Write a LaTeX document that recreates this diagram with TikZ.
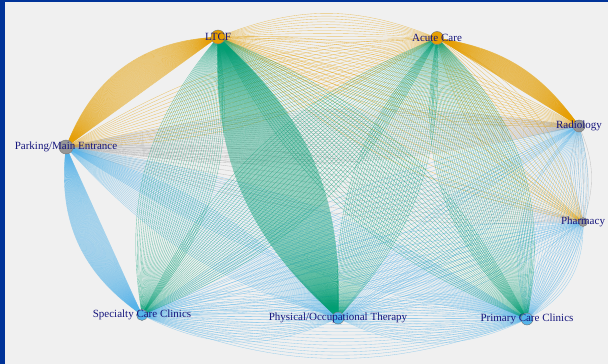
\documentclass[tikz,border=0pt]{standalone}
\usepackage{fontspec}
\setmainfont{Liberation Serif}
\definecolor{frameblue}{RGB}{0,51,153}
\definecolor{paper}{RGB}{240,240,240}
\definecolor{hubor}{HTML}{E69F00}
\definecolor{hubgray}{HTML}{969696}
\definecolor{hubblue}{HTML}{56B4E9}
\definecolor{flowor}{HTML}{E69F00}
\definecolor{flowgreen}{HTML}{009E73}
\definecolor{flowblue}{HTML}{56B4E9}
\definecolor{flowgray}{HTML}{A0A0A0}
\definecolor{namecol}{RGB}{22,22,125}
\pgfdeclarelayer{back}
\pgfdeclarelayer{edges}
\pgfsetlayers{back,edges,main}
\begin{document}
\begin{tikzpicture}[x=1pt,y=-1pt]
	\tikzstyle{hub}=[circle,draw=black!55,line width=0.4pt,inner sep=0pt]
	\tikzset{
		orange hub/.style={hub,fill=hubor},
		gray hub/.style={hub,fill=hubgray},
		blue hub/.style={hub,fill=hubblue},
		every label/.style={text=namecol,font=\fontsize{11}{13}\selectfont,inner sep=0pt},
		flow/.style={line width=0.35pt,opacity=0.55}
	}
	\begin{pgfonlayer}{back}
		\fill[paper] (0,0) rectangle (608,364);
		\fill[frameblue] (0,0) rectangle (608,2);
		\fill[frameblue] (0,0) rectangle (5,364);
	\end{pgfonlayer}
	\useasboundingbox (0,0) rectangle (608,364);
	% places
	\node(ltcf)[orange hub,minimum size=14pt,label=center:LTCF] at (218,37){};
	\node(acute)[orange hub,minimum size=13pt,label=center:Acute Care] at (437,38){};
	\node(parking)[gray hub,minimum size=14pt,label=center:Parking/Main Entrance] at (66,147){};
	\node(radio)[gray hub,minimum size=12pt,label=center:Radiology] at (579,126){};
	\node(pharma)[gray hub,minimum size=9pt,label=center:Pharmacy] at (583,222){};
	\node(special)[blue hub,minimum size=11pt,label=center:Specialty Care Clinics] at (142,315){};
	\node(therapy)[blue hub,minimum size=12pt,label=center:Physical/Occupational Therapy] at (338,318){};
	\node(primary)[blue hub,minimum size=12pt,label=center:Primary Care Clinics] at (527,319){};
	% trips between places: from/to/colour/count/lowest bend/highest bend
	\begin{pgfonlayer}{edges}
		\foreach \a/\b/\col/\n/\lo/\hi in {
				parking/radio/flowgray/25/-10/10,
				parking/pharma/flowgray/10/-10/10,
				radio/pharma/flowgray/5/-20/20,
				ltcf/acute/flowor/10/-4/21,
				parking/ltcf/flowor/60/0/32,
				acute/radio/flowor/60/0/22,
				ltcf/radio/flowor/14/-15/15,
				ltcf/pharma/flowor/10/-15/15,
				acute/parking/flowor/14/-15/15,
				acute/pharma/flowor/12/-25/25,
				parking/special/flowblue/60/-30/0,
				parking/therapy/flowblue/25/-15/15,
				parking/primary/flowblue/25/-12/12,
				radio/special/flowblue/12/-12/12,
				radio/therapy/flowblue/12/-15/15,
				radio/primary/flowblue/22/-30/30,
				pharma/special/flowblue/8/-12/12,
				pharma/therapy/flowblue/8/-15/15,
				pharma/primary/flowblue/14/-30/30,
				special/therapy/flowblue/18/-25/25,
				therapy/primary/flowblue/18/-25/25,
				special/primary/flowblue/18/-21/10,
				ltcf/special/flowgreen/30/-24/24,
				ltcf/therapy/flowgreen/120/-25/25,
				ltcf/primary/flowgreen/25/-20/20,
				acute/special/flowgreen/25/-20/20,
				acute/therapy/flowgreen/28/-22/22,
				acute/primary/flowgreen/40/-28/28}{
			\foreach \i in {0,...,\n}{
				\pgfmathsetmacro\bnd{\lo+(\hi-\lo)*\i/\n}
				\draw[flow,draw=\col] (\a) to[bend left=\bnd] (\b);
			}
		}
	\end{pgfonlayer}
\end{tikzpicture}
\end{document}
